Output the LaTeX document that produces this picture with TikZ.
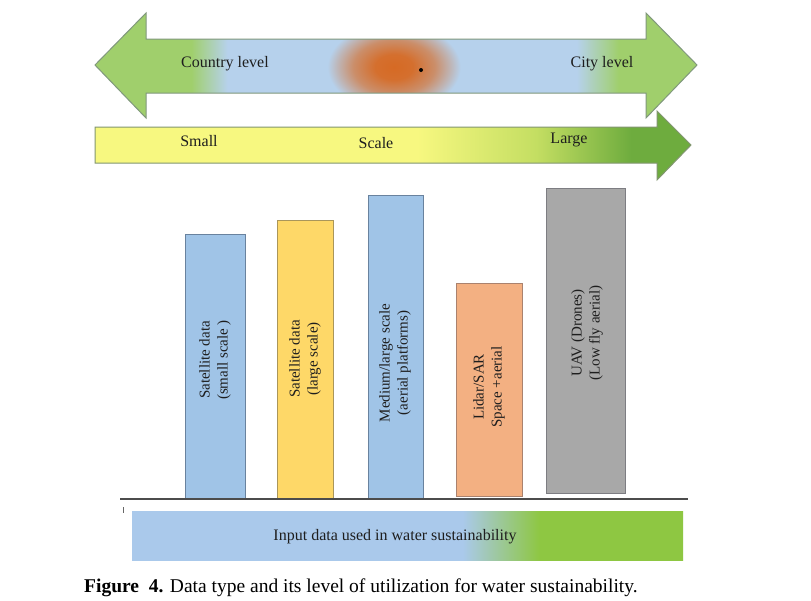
\documentclass[tikz,border=0pt]{standalone}
\usepackage{fontspec}
\setmainfont{Liberation Serif}
\definecolor{arrblue}{RGB}{182,209,236}
\definecolor{arrgreen}{RGB}{160,207,108}
\definecolor{arrline}{RGB}{128,152,124}
\definecolor{blobor}{RGB}{214,106,36}
\definecolor{sclyellow}{RGB}{247,248,128}
\definecolor{sclmid}{RGB}{196,222,98}
\definecolor{sclgreen}{RGB}{110,172,62}
\definecolor{sclline}{RGB}{130,150,112}
\definecolor{barblue}{RGB}{160,196,231}
\definecolor{barblueline}{RGB}{105,130,158}
\definecolor{baryellow}{RGB}{254,216,104}
\definecolor{baryellowline}{RGB}{170,150,90}
\definecolor{barorange}{RGB}{243,176,130}
\definecolor{barorangeline}{RGB}{170,130,110}
\definecolor{bargray}{RGB}{168,168,168}
\definecolor{bargrayline}{RGB}{125,125,130}
\definecolor{inblue}{RGB}{170,201,235}
\definecolor{ingreen}{RGB}{142,199,66}
\definecolor{txt}{RGB}{30,30,30}
\pgfdeclarehorizontalshading{topshade}{100bp}{color(0bp)=(arrgreen); color(33bp)=(arrgreen); color(36bp)=(arrblue); color(65bp)=(arrblue); color(68.5bp)=(arrgreen); color(100bp)=(arrgreen)}
\pgfdeclareradialshading{blobshade}{\pgfpoint{0bp}{0bp}}{color(0bp)=(blobor); color(7bp)=(blobor!95!arrblue); color(15bp)=(blobor!65!arrblue); color(21bp)=(blobor!25!arrblue); color(24.5bp)=(arrblue); color(50bp)=(arrblue)}
\pgfdeclarehorizontalshading{scaleshade}{100bp}{color(0bp)=(sclyellow); color(52bp)=(sclyellow); color(62bp)=(sclmid); color(70bp)=(sclgreen); color(100bp)=(sclgreen)}
\pgfdeclarehorizontalshading{inshade}{100bp}{color(0bp)=(inblue); color(55bp)=(inblue); color(62bp)=(ingreen); color(100bp)=(ingreen)}
\tikzset{
  lbl/.style={text=txt, inner sep=0pt, font=\fontsize{16}{19}\selectfont},
  bartext/.style={text=txt, inner sep=0pt, rotate=90, align=center, font=\fontsize{15}{18}\selectfont},
  bar/.style={line width=1pt},
}
\begin{document}
\begin{tikzpicture}[x=1pt,y=-1pt]
\useasboundingbox (0,0) rectangle (811,600);
\fill[white] (0,0) rectangle (811,600);
% top double arrow
\shade[shading=topshade] (95,65) -- (146,13) -- (146,39) -- (646,39) -- (646,13) -- (697,65) -- (646,118) -- (646,93) -- (146,93) -- (146,118) -- cycle;
\begin{scope}
\clip (146,39.5) rectangle (646,92.5);
\shade[shading=blobshade] (326,22) rectangle (462,112);
\end{scope}
\draw[arrline, line width=1pt, line join=miter] (95,65) -- (146,13) -- (146,39) -- (646,39) -- (646,13) -- (697,65) -- (646,118) -- (646,93) -- (146,93) -- (146,118) -- cycle;
\fill[black] (421,70) circle (2pt);
\node[lbl] (country) at (225,64) {Country level};
\node[lbl] (city) at (602,64) {City level};
% scale arrow
\shade[shading=scaleshade] (95,127) -- (657,127) -- (657,111) -- (691,145) -- (657,180) -- (657,163) -- (95,163) -- cycle;
\draw[sclline, line width=1pt] (95,127) -- (657,127) -- (657,111) -- (691,145) -- (657,180) -- (657,163) -- (95,163) -- cycle;
\node[lbl] (small) at (199,141) {Small};
\node[lbl] (scale) at (376,143) {Scale};
\node[lbl] (large) at (569,140) {Large};
% bars
\draw[bar, fill=barblue, draw=barblueline] (185,234) rectangle (245,498);
\draw[bar, fill=baryellow, draw=baryellowline] (277,220) rectangle (333,498);
\draw[bar, fill=barblue, draw=barblueline] (368,195) rectangle (423,498);
\draw[bar, fill=barorange, draw=barorangeline] (456,283) rectangle (522,496);
\draw[bar, fill=bargray, draw=bargrayline] (546,188) rectangle (625,493);
\node[bartext] (b1) at (215,360) {Satellite data\\(small scale )};
\node[bartext] (b2) at (305,359) {Satellite data\\(large scale)};
\node[bartext] (b3) at (395,363) {Medium/large scale\\(aerial platforms)};
\node[bartext] (b4) at (489,387) {Lidar/SAR\\Space +aerial};
\node[bartext] (b5) at (587,333) {UAV (Drones)\\(Low fly aerial)};
% baseline
\coordinate (bl) at (120,499);
\coordinate (br) at (688,499);
\draw[black!70, line width=1.2pt] (bl) -- (br);
\coordinate (t1) at (123,507);
\coordinate (t2) at (123,513);
\draw[black!60, line width=1pt] (t1) -- (t2);
% input box
\shade[shading=inshade] (132,511) rectangle (683,560);
\node[lbl] (input) at (395,537) {Input data used in water sustainability};
% caption
\node[text=black, inner sep=0pt, anchor=west, font=\fontsize{19.5}{22}\selectfont] (cap) at (84,588) {\textbf{Figure\ \ 4.} Data type and its level of utilization for water sustainability.};
\end{tikzpicture}
\end{document}
